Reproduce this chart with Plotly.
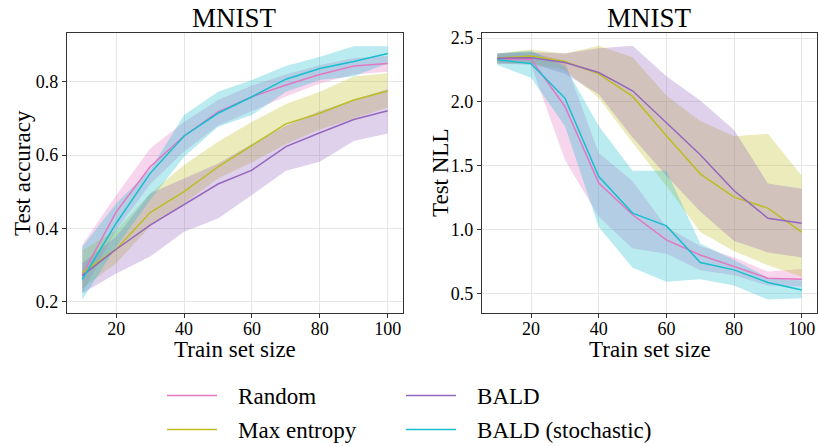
import plotly.graph_objects as go

# Train set sizes shared by both panels
train_sizes = [10, 20, 30, 40, 50, 60, 70, 80, 90, 100]

# --- Test accuracy (mean, lower, upper) ---
acc_random = [0.273, 0.445, 0.568, 0.652, 0.718, 0.759, 0.791, 0.820, 0.843, 0.850]
acc_random_lo = [0.223, 0.395, 0.520, 0.610, 0.680, 0.720, 0.760, 0.795, 0.820, 0.827]
acc_random_hi = [0.355, 0.490, 0.618, 0.690, 0.750, 0.790, 0.820, 0.845, 0.865, 0.870]

acc_maxent = [0.279, 0.343, 0.443, 0.500, 0.568, 0.627, 0.685, 0.714, 0.750, 0.775]
acc_maxent_lo = [0.236, 0.305, 0.405, 0.468, 0.536, 0.580, 0.630, 0.670, 0.700, 0.730]
acc_maxent_hi = [0.340, 0.395, 0.495, 0.573, 0.636, 0.691, 0.739, 0.773, 0.814, 0.823]

acc_bald = [0.271, 0.343, 0.409, 0.466, 0.521, 0.559, 0.623, 0.661, 0.697, 0.721]
acc_bald_lo = [0.223, 0.277, 0.323, 0.391, 0.427, 0.491, 0.557, 0.582, 0.638, 0.659]
acc_bald_hi = [0.305, 0.377, 0.495, 0.536, 0.577, 0.630, 0.680, 0.720, 0.750, 0.780]

acc_bald_st = [0.261, 0.414, 0.550, 0.652, 0.714, 0.759, 0.807, 0.836, 0.855, 0.877]
acc_bald_st_lo = [0.205, 0.350, 0.477, 0.595, 0.677, 0.709, 0.773, 0.805, 0.815, 0.850]
acc_bald_st_hi = [0.350, 0.468, 0.560, 0.709, 0.773, 0.805, 0.843, 0.868, 0.897, 0.897]

# --- Test NLL (mean, lower, upper) ---
nll_random = [2.338, 2.335, 1.964, 1.363, 1.115, 0.918, 0.800, 0.709, 0.618, 0.610]
nll_random_lo = [2.300, 2.290, 1.546, 1.100, 0.850, 0.810, 0.680, 0.640, 0.560, 0.550]
nll_random_hi = [2.380, 2.390, 2.320, 1.600, 1.380, 1.020, 0.870, 0.780, 0.670, 0.690]

nll_maxent = [2.343, 2.360, 2.317, 2.220, 2.043, 1.734, 1.436, 1.253, 1.167, 0.979]
nll_maxent_lo = [2.300, 2.300, 2.250, 2.030, 1.680, 1.340, 0.980, 0.830, 0.720, 0.630]
nll_maxent_hi = [2.380, 2.410, 2.380, 2.440, 2.350, 2.050, 1.850, 1.730, 1.750, 1.420]

nll_bald = [2.343, 2.346, 2.309, 2.230, 2.087, 1.839, 1.585, 1.303, 1.088, 1.049]
nll_bald_lo = [2.300, 2.300, 2.220, 2.060, 1.720, 1.420, 1.140, 0.910, 0.820, 0.780]
nll_bald_hi = [2.380, 2.390, 2.380, 2.420, 2.440, 2.200, 2.010, 1.780, 1.360, 1.320]

nll_bald_st = [2.330, 2.300, 2.030, 1.415, 1.128, 1.028, 0.741, 0.683, 0.584, 0.526]
nll_bald_st_lo = [2.290, 2.190, 1.810, 1.020, 0.700, 0.590, 0.610, 0.560, 0.450, 0.460]
nll_bald_st_hi = [2.380, 2.400, 2.280, 1.810, 1.460, 1.460, 0.890, 0.760, 0.620, 0.600]

methods = ["Random", "Max entropy", "BALD", "BALD (stochastic)"]
colors = ["#e377c2", "#bcbd22", "#9467bd", "#17becf"]

acc_series = [
    (acc_random, acc_random_lo, acc_random_hi),
    (acc_maxent, acc_maxent_lo, acc_maxent_hi),
    (acc_bald, acc_bald_lo, acc_bald_hi),
    (acc_bald_st, acc_bald_st_lo, acc_bald_st_hi),
]
nll_series = [
    (nll_random, nll_random_lo, nll_random_hi),
    (nll_maxent, nll_maxent_lo, nll_maxent_hi),
    (nll_bald, nll_bald_lo, nll_bald_hi),
    (nll_bald_st, nll_bald_st_lo, nll_bald_st_hi),
]

FONT = "Times New Roman, Liberation Serif, serif"
W, H = 819, 446

# panel frames in pixels (left, right), shared top/bottom
LEFT_PANEL = (67, 403)
RIGHT_PANEL = (482, 817)
TOP, BOTTOM = 33, 313

# one single-entry legend per method, laid out as a 2x2 grid below the panels
legend_names = ["legend", "legend2", "legend3", "legend4"]
legend_pos = [(162, 374), (162, 408), (401, 374), (401, 408)]


def rgba(hex_color, alpha):
    h = hex_color.lstrip("#")
    r, g, b = int(h[0:2], 16), int(h[2:4], 16), int(h[4:6], 16)
    return f"rgba({r},{g},{b},{alpha})"


fig = go.Figure()

for series, xa, ya in [(acc_series, "x", "y"), (nll_series, "x2", "y2")]:
    # shaded bands first
    for (mean, lo, hi), color in zip(series, colors):
        fig.add_trace(go.Scatter(
            x=train_sizes + train_sizes[::-1],
            y=hi + lo[::-1],
            fill="toself",
            fillcolor=rgba(color, 0.3),
            line=dict(width=0),
            mode="lines",
            hoverinfo="skip",
            showlegend=False,
            xaxis=xa, yaxis=ya,
        ))
    # mean curves on top
    for (mean, lo, hi), color, name, lg in zip(series, colors, methods, legend_names):
        fig.add_trace(go.Scatter(
            x=train_sizes, y=mean,
            mode="lines",
            line=dict(color=color, width=1.5),
            name="\u2002\u2009" + name,
            legend=lg,
            showlegend=(xa == "x"),
            xaxis=xa, yaxis=ya,
        ))

y_dom = [1 - BOTTOM / H, 1 - TOP / H]
y_mid = 1 - (TOP + BOTTOM) / 2 / H

axis_common = dict(
    showline=True, linecolor="#333333", linewidth=1.2, mirror=True,
    showgrid=True, gridcolor="#e6e6e6", gridwidth=1,
    ticks="outside", ticklen=4, tickcolor="#333333", tickwidth=1,
    tickfont=dict(family=FONT, size=18, color="black"),
    zeroline=False, automargin=False,
)

legends = {}
for lg, (px, py) in zip(legend_names, legend_pos):
    legends[lg] = dict(
        x=px / W, y=1 - py / H, xanchor="left", yanchor="top",
        orientation="v", itemwidth=50, bgcolor="rgba(0,0,0,0)",
        font=dict(family=FONT, size=23, color="black"),
    )


def text_note(text, x_px, y_px, size, angle=0, yanchor="middle"):
    return dict(text=text, x=x_px / W, y=1 - y_px / H, xref="paper", yref="paper",
                xanchor="center", yanchor=yanchor, showarrow=False, textangle=angle,
                font=dict(family=FONT, size=size, color="black"))


fig.update_layout(
    width=W, height=H,
    margin=dict(l=0, r=0, t=0, b=0, autoexpand=False),
    paper_bgcolor="white", plot_bgcolor="white",
    font=dict(family=FONT, color="black"),
    xaxis=dict(domain=[LEFT_PANEL[0] / W, LEFT_PANEL[1] / W], range=[5.5, 104.5],
               tickvals=[20, 40, 60, 80, 100], anchor="y", ticklabelstandoff=-5,
               **axis_common),
    yaxis=dict(domain=y_dom, range=[0.169, 0.933],
               tickvals=[0.2, 0.4, 0.6, 0.8], tickformat=".1f", anchor="x",
               **axis_common),
    xaxis2=dict(domain=[RIGHT_PANEL[0] / W, RIGHT_PANEL[1] / W], range=[5.5, 104.5],
                tickvals=[20, 40, 60, 80, 100], anchor="y2", ticklabelstandoff=-5,
                **axis_common),
    yaxis2=dict(domain=y_dom, range=[0.345, 2.54],
                tickvals=[0.5, 1.0, 1.5, 2.0, 2.5], tickformat=".1f", anchor="x2",
                **axis_common),
    annotations=[
        text_note("MNIST", sum(LEFT_PANEL) / 2, 35, 27, yanchor="bottom"),
        text_note("MNIST", sum(RIGHT_PANEL) / 2, 35, 27, yanchor="bottom"),
        text_note("Train set size", sum(LEFT_PANEL) / 2, 349, 23),
        text_note("Train set size", sum(RIGHT_PANEL) / 2, 349, 23),
        text_note("Test accuracy", 22, (TOP + BOTTOM) / 2, 23, angle=-90),
        text_note("Test NLL", 440, (TOP + BOTTOM) / 2, 23, angle=-90),
    ],
    **legends,
)

fig.write_html("out.html")
